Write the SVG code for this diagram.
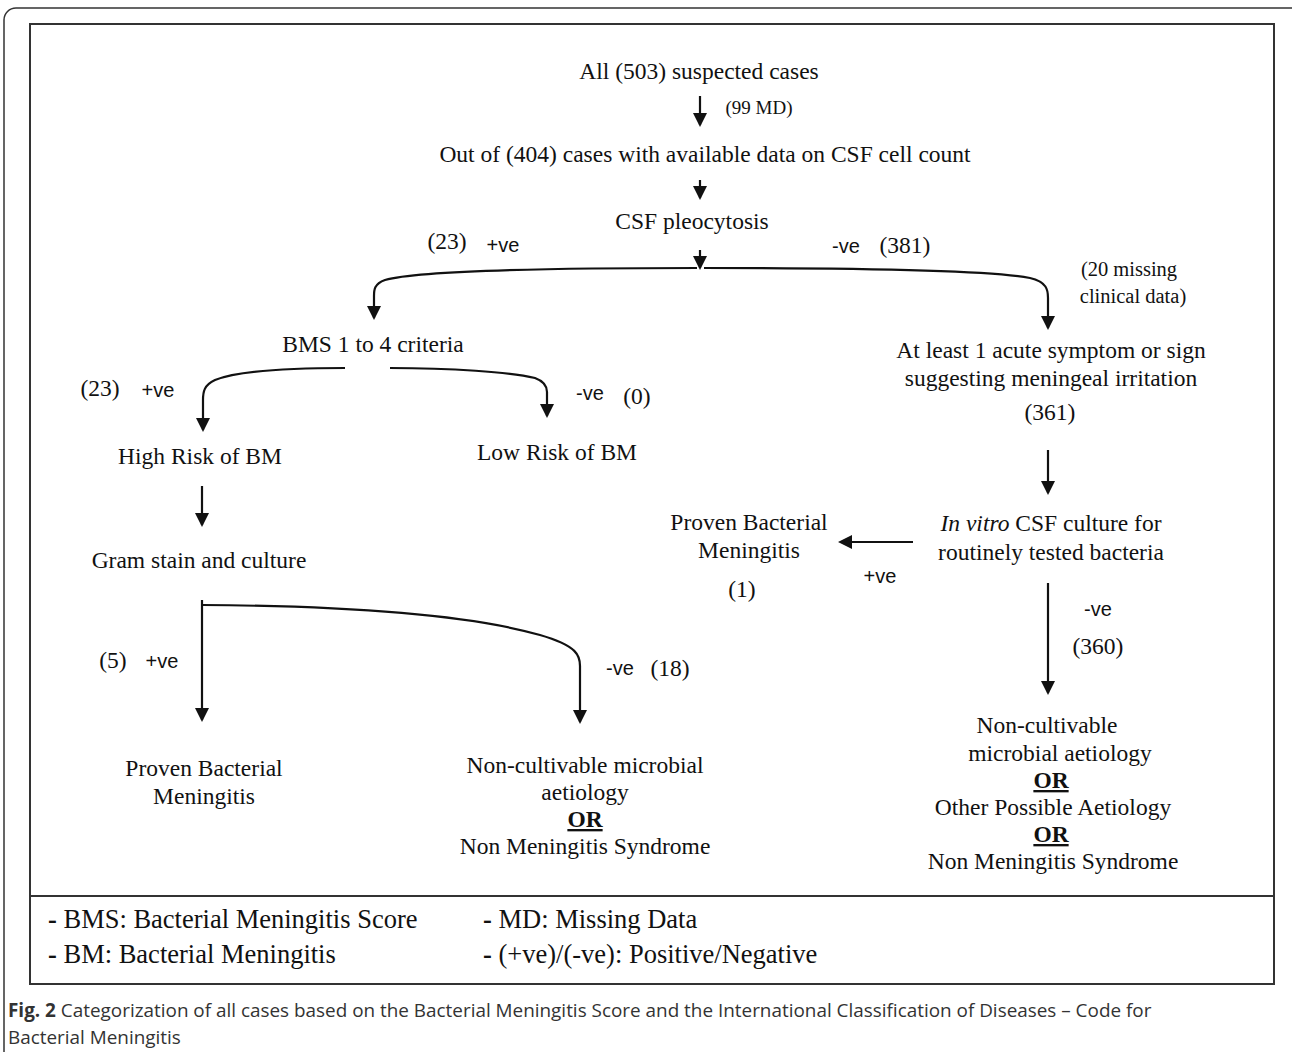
<svg xmlns="http://www.w3.org/2000/svg" width="1292" height="1052" viewBox="0 0 1292 1052">
<style>
.t{font-family:"Liberation Serif","Times New Roman",serif;font-size:23.5px;fill:#111;text-anchor:middle}
.s{font-family:"Liberation Serif","Times New Roman",serif;font-size:19px;fill:#111;text-anchor:middle}
.s2{font-family:"Liberation Serif","Times New Roman",serif;font-size:20.5px;fill:#111;text-anchor:middle}
.v{font-family:"Liberation Sans",Arial,sans-serif;font-size:20px;fill:#111;text-anchor:middle}
.or{font-weight:bold;text-decoration:underline}
.lg{font-family:"Liberation Serif","Times New Roman",serif;font-size:26.5px;fill:#111}
.cap{font-family:"Open Sans","Noto Sans",sans-serif;font-size:18.9px;fill:#333}
.c{fill:none;stroke:#111;stroke-width:2.2}
</style>
<defs>
<marker id="ah" markerWidth="14" markerHeight="14" refX="12" refY="7" orient="auto" markerUnits="userSpaceOnUse">
<path d="M0,0 L14,7 L0,14 z" fill="#111"/>
</marker>
</defs>
<rect width="1292" height="1052" fill="#fff"/>
<rect x="4" y="8" width="1300" height="1070" rx="12" fill="none" stroke="#333" stroke-width="1.5"/>
<rect x="30" y="24" width="1244" height="960" fill="none" stroke="#333" stroke-width="2"/>
<line x1="30" y1="896" x2="1274" y2="896" stroke="#333" stroke-width="2"/>

<g id="connectors">
<path class="c" d="M700,96 V125" marker-end="url(#ah)"/>
<path class="c" d="M700,180 V198" marker-end="url(#ah)"/>
<path class="c" d="M700,250 V268" marker-end="url(#ah)"/>
<path class="c" d="M697,268 C560,268 420,270 385,280 C374,284 374,290 374,296 V318" marker-end="url(#ah)"/>
<path class="c" d="M704,268 C840,268 990,270 1030,278 C1047,282 1048,290 1048,298 V328" marker-end="url(#ah)"/>
<path class="c" d="M345,368 C300,368 240,370 215,380 C204,385 203,392 203,400 V430" marker-end="url(#ah)"/>
<path class="c" d="M390,368 C450,368 510,372 535,378 C546,382 547,388 547,392 V416" marker-end="url(#ah)"/>
<path class="c" d="M202,486 V525" marker-end="url(#ah)"/>
<path class="c" d="M1048,450 V493" marker-end="url(#ah)"/>
<path class="c" d="M913,542 H840" marker-end="url(#ah)"/>
<path class="c" d="M1048,583 V693" marker-end="url(#ah)"/>
<path class="c" d="M202,600 V720" marker-end="url(#ah)"/>
<path class="c" d="M202,605 C350,606 470,615 540,635 C578,646 580,656 580,666 V722" marker-end="url(#ah)"/>
</g>

<g id="n-all"><text class="t" x="699" y="79">All (503) suspected cases</text></g>
<text class="s" x="759" y="114">(99 MD)</text>
<g id="n-404"><text class="t" x="705" y="162">Out of (404) cases with available data on CSF cell count</text></g>
<g id="n-pleo"><text class="t" x="692" y="229">CSF pleocytosis</text></g>
<text class="t" x="447" y="249">(23)</text>
<text class="v" x="503" y="252">+ve</text>
<text class="v" x="846" y="253">-ve</text>
<text class="t" x="905" y="253">(381)</text>
<text class="s2" x="1129" y="276">(20 missing</text>
<text class="s2" x="1133" y="303">clinical data)</text>

<g id="n-bms"><text class="t" x="373" y="352">BMS 1 to 4 criteria</text></g>
<g id="n-acute">
<text class="t" x="1051" y="358">At least 1 acute symptom or sign</text>
<text class="t" x="1051" y="386">suggesting meningeal irritation</text>
<text class="t" x="1050" y="420">(361)</text>
</g>
<text class="t" x="100" y="396">(23)</text>
<text class="v" x="158" y="397">+ve</text>
<text class="v" x="590" y="400">-ve</text>
<text class="t" x="637" y="404">(0)</text>
<g id="n-high"><text class="t" x="200" y="464">High Risk of BM</text></g>
<g id="n-low"><text class="t" x="557" y="460">Low Risk of BM</text></g>
<g id="n-gram"><text class="t" x="199" y="568">Gram stain and culture</text></g>

<g id="n-invitro">
<text class="t" x="1051" y="531"><tspan font-style="italic">In vitro</tspan> CSF culture for</text>
<text class="t" x="1051" y="560">routinely tested bacteria</text>
</g>
<g id="n-proven1">
<text class="t" x="749" y="530">Proven Bacterial</text>
<text class="t" x="749" y="558">Meningitis</text>
<text class="t" x="742" y="597">(1)</text>
</g>
<text class="v" x="880" y="583">+ve</text>
<text class="v" x="1098" y="616">-ve</text>
<text class="t" x="1098" y="654">(360)</text>
<g id="n-noncult2">
<text class="t" x="1047" y="733">Non-cultivable</text>
<text class="t" x="1060" y="761">microbial aetiology</text>
<text class="t or" x="1051" y="788">OR</text>
<text class="t" x="1053" y="815">Other Possible Aetiology</text>
<text class="t or" x="1051" y="842">OR</text>
<text class="t" x="1053" y="869">Non Meningitis Syndrome</text>
</g>
<text class="t" x="113" y="668">(5)</text>
<text class="v" x="162" y="668">+ve</text>
<text class="v" x="620" y="675">-ve</text>
<text class="t" x="670" y="676">(18)</text>
<g id="n-proven2">
<text class="t" x="204" y="776">Proven Bacterial</text>
<text class="t" x="204" y="804">Meningitis</text>
</g>
<g id="n-noncult1">
<text class="t" x="585" y="773">Non-cultivable microbial</text>
<text class="t" x="585" y="800">aetiology</text>
<text class="t or" x="585" y="827">OR</text>
<text class="t" x="585" y="854">Non Meningitis Syndrome</text>
</g>

<g id="legend">
<text class="lg" x="48" y="928"><tspan font-weight="bold">-</tspan> BMS: Bacterial Meningitis Score</text>
<text class="lg" x="483" y="928"><tspan font-weight="bold">-</tspan> MD: Missing Data</text>
<text class="lg" x="48" y="963"><tspan font-weight="bold">-</tspan> BM: Bacterial Meningitis</text>
<text class="lg" x="483" y="963"><tspan font-weight="bold">-</tspan> (+ve)/(-ve): Positive/Negative</text>
</g>
<text class="cap" x="8" y="1017"><tspan font-weight="bold">Fig. 2</tspan> Categorization of all cases based on the Bacterial Meningitis Score and the International Classification of Diseases – Code for</text>
<text class="cap" x="8" y="1044">Bacterial Meningitis</text>
</svg>
